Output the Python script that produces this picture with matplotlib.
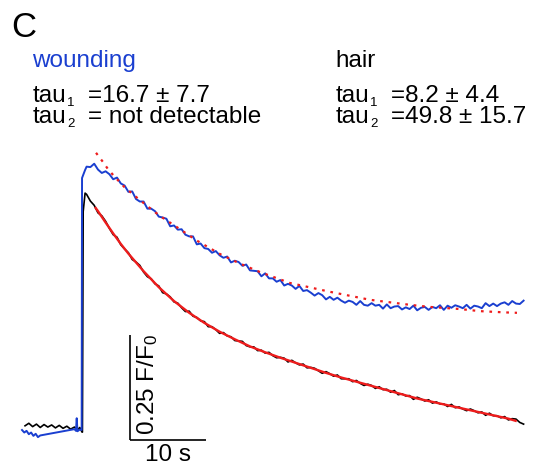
import numpy as np
import matplotlib
matplotlib.use("Agg")
import matplotlib.pyplot as plt

plt.rcParams['font.family'] = ['Liberation Sans', 'DejaVu Sans']
plt.rcParams['mathtext.fontset'] = 'custom'
plt.rcParams['mathtext.rm'] = 'Liberation Sans'
plt.rcParams['mathtext.it'] = 'Liberation Sans:italic'

# 颜色
BLUE = '#1a3fd0'
RED = '#ee1c1c'

# ---- data (time in s, signal in F/F0) ----
# hair: baseline + jump
HAIR_PRE_T = [0.4, 0.9, 1.4, 1.9, 2.4, 2.9, 3.4, 3.9, 4.4, 4.9, 5.4, 5.9, 6.4, 6.9, 7.3, 7.6, 7.9, 7.95, 8.05, 8.3]
HAIR_PRE_F = [1.010, 1.016, 1.008, 1.014, 1.006, 1.013, 1.007, 1.012, 1.005, 1.011, 1.004, 1.009,
              1.002, 1.007, 1.000, 1.006, 0.995, 0.995, 1.520, 1.564]
# hair: decay, sampled every 0.5 s from 8.5 s to 66 s
HAIR_DECAY = [1.561, 1.545, 1.535, 1.517, 1.510, 1.497, 1.480, 1.465, 1.459, 1.441, 1.431, 1.422,
              1.406, 1.400, 1.392, 1.376, 1.365, 1.360, 1.348, 1.343, 1.327, 1.324, 1.317, 1.305,
              1.302, 1.291, 1.282, 1.283, 1.271, 1.268, 1.260, 1.258, 1.246, 1.246, 1.239, 1.230,
              1.232, 1.224, 1.222, 1.213, 1.212, 1.211, 1.201, 1.198, 1.198, 1.189, 1.190, 1.183,
              1.185, 1.177, 1.172, 1.173, 1.171, 1.162, 1.166, 1.160, 1.155, 1.157, 1.148, 1.149,
              1.147, 1.141, 1.135, 1.139, 1.134, 1.128, 1.131, 1.122, 1.122, 1.122, 1.115, 1.118,
              1.111, 1.106, 1.109, 1.106, 1.099, 1.103, 1.096, 1.097, 1.090, 1.094, 1.084, 1.086,
              1.081, 1.082, 1.073, 1.078, 1.074, 1.069, 1.072, 1.064, 1.067, 1.062, 1.062, 1.056,
              1.061, 1.053, 1.055, 1.050, 1.046, 1.050, 1.046, 1.041, 1.043, 1.035, 1.040, 1.034,
              1.034, 1.029, 1.032, 1.024, 1.027, 1.026, 1.018, 1.014]

# wounding: baseline + jump
WOUND_PRE_T = [0.0, 0.3, 0.6, 0.9, 1.2, 1.5, 1.8, 2.1, 2.4, 6.9, 7.1, 7.2, 7.3, 7.6, 7.8, 7.85, 7.9, 8.3]
WOUND_PRE_F = [1.000, 0.994, 0.998, 0.990, 0.994, 0.986, 0.991, 0.983, 0.987, 1.002, 0.998, 1.028,
               0.997, 1.001, 1.000, 1.000, 1.600, 1.619]
# wounding: decay, sampled every 0.5 s from 8.5 s to 66 s
WOUND_DECAY = [1.627, 1.626, 1.634, 1.620, 1.612, 1.616, 1.609, 1.597, 1.601, 1.587, 1.582, 1.567,
               1.568, 1.550, 1.544, 1.544, 1.527, 1.527, 1.521, 1.508, 1.506, 1.503, 1.485, 1.487,
               1.477, 1.478, 1.465, 1.461, 1.461, 1.442, 1.444, 1.433, 1.431, 1.422, 1.426, 1.416,
               1.410, 1.413, 1.399, 1.403, 1.400, 1.391, 1.394, 1.380, 1.379, 1.378, 1.366, 1.373,
               1.361, 1.361, 1.353, 1.357, 1.344, 1.348, 1.344, 1.336, 1.343, 1.331, 1.333, 1.327,
               1.320, 1.326, 1.321, 1.311, 1.317, 1.310, 1.315, 1.308, 1.303, 1.308, 1.305, 1.298,
               1.307, 1.298, 1.296, 1.302, 1.296, 1.298, 1.289, 1.299, 1.290, 1.294, 1.295, 1.287,
               1.292, 1.288, 1.296, 1.285, 1.291, 1.293, 1.286, 1.293, 1.290, 1.297, 1.286, 1.296,
               1.291, 1.297, 1.294, 1.290, 1.298, 1.289, 1.296, 1.294, 1.290, 1.302, 1.295, 1.301,
               1.295, 1.301, 1.304, 1.298, 1.307, 1.301, 1.300, 1.308]
DECAY_T = np.arange(8.5, 66.01, 0.5)

# exponential fits
FIT_WOUND_T = [9.74, 10.66, 11.32, 12.24, 13.5, 14.87, 16.5, 18.2, 20.13, 23.0, 26.05, 28.7,
               31.32, 35.26, 40.53, 45.79, 51.05, 53.68, 57.63, 60.26, 63.55, 65.13]
FIT_WOUND_F = [1.660, 1.638, 1.621, 1.602, 1.578, 1.557, 1.533, 1.509, 1.486, 1.451, 1.419, 1.396,
               1.376, 1.350, 1.329, 1.310, 1.298, 1.293, 1.288, 1.283, 1.280, 1.279]
FIT_HAIR_T = [9.6, 10, 11, 12, 13, 14, 16, 18, 20, 22, 24, 26, 28, 30, 32, 34, 36, 38, 40, 42,
              44, 46, 48, 50, 52, 54, 56, 58, 60, 62, 64, 65.1]
FIT_HAIR_F = [1.531, 1.521, 1.494, 1.468, 1.443, 1.420, 1.378, 1.340, 1.307, 1.279, 1.255, 1.234,
              1.216, 1.199, 1.185, 1.172, 1.160, 1.148, 1.136, 1.125, 1.115, 1.105, 1.095, 1.085,
              1.075, 1.067, 1.059, 1.051, 1.043, 1.035, 1.027, 1.021]

SCALE_T = 10      # s
SCALE_F = 0.25    # F/F0

# tau values shown above the traces
TAU_WOUND = ['=16.7 ± 7.7', '= not detectable']
TAU_HAIR = ['=8.2 ± 4.4', '=49.8 ± 15.7']

W, H = 534, 471
fig = plt.figure(figsize=(W / 100, H / 100), dpi=100)
ax = fig.add_axes([0, 0, 1, 1])
ax.set_xlim(-22 / 7.6, 512 / 7.6)
ax.set_ylim(1 + (430 - 471) / 420, 1 + 430 / 420)
ax.axis('off')

hair_t = np.concatenate([HAIR_PRE_T, DECAY_T])
hair_f = np.concatenate([HAIR_PRE_F, HAIR_DECAY])
wound_t = np.concatenate([WOUND_PRE_T, DECAY_T])
wound_f = np.concatenate([WOUND_PRE_F, WOUND_DECAY])

ax.plot(hair_t, hair_f, color='black', lw=1.2, zorder=2)
ax.plot(wound_t, wound_f, color=BLUE, lw=1.4, zorder=3)
ax.plot(FIT_HAIR_T, FIT_HAIR_F, color=RED, lw=1.7, zorder=4, solid_capstyle='butt')
ax.plot(FIT_WOUND_T, FIT_WOUND_F, color=RED, lw=1.6, ls=(0, (1.2, 2.6)), zorder=5)

# scale bars
x0 = (130 - 22) / 7.6
y0 = 1 + (430 - 440) / 420
ax.plot([x0, x0 + SCALE_T], [y0, y0], color='black', lw=1.2, solid_capstyle='butt')
ax.plot([x0, x0], [y0, y0 + SCALE_F], color='black', lw=1.2, solid_capstyle='butt')
ax.text(x0 + SCALE_T / 2, y0 - 0.01, f'{SCALE_T} s', ha='center', va='top', fontsize=17.5)
ax.text(x0 + 2.3, y0 + SCALE_F / 2 + 0.008, f'{SCALE_F} F/F$_\\mathrm{{0}}$', rotation=90,
        ha='center', va='center', fontsize=17.5)


def fpos(x, y):
    return x / W, 1 - y / H


def tau_lines(x, vals):
    for i, (y, v) in enumerate(zip([102, 123], vals)):
        fig.text(*fpos(x, y), 'tau', fontsize=fs, va='baseline')
        fig.text(*fpos(x + 34, y + 4), str(i + 1), fontsize=9.5, va='baseline')
        fig.text(*fpos(x + 55, y), v, fontsize=fs, va='baseline')


fs = 17.5
fig.text(*fpos(11, 37), 'C', fontsize=25, va='baseline')
fig.text(*fpos(32, 67), 'wounding', color=BLUE, fontsize=fs, va='baseline')
fig.text(*fpos(335, 67), 'hair', fontsize=fs, va='baseline')
tau_lines(33, TAU_WOUND)
tau_lines(336, TAU_HAIR)

fig.savefig('out.png', dpi=100)
